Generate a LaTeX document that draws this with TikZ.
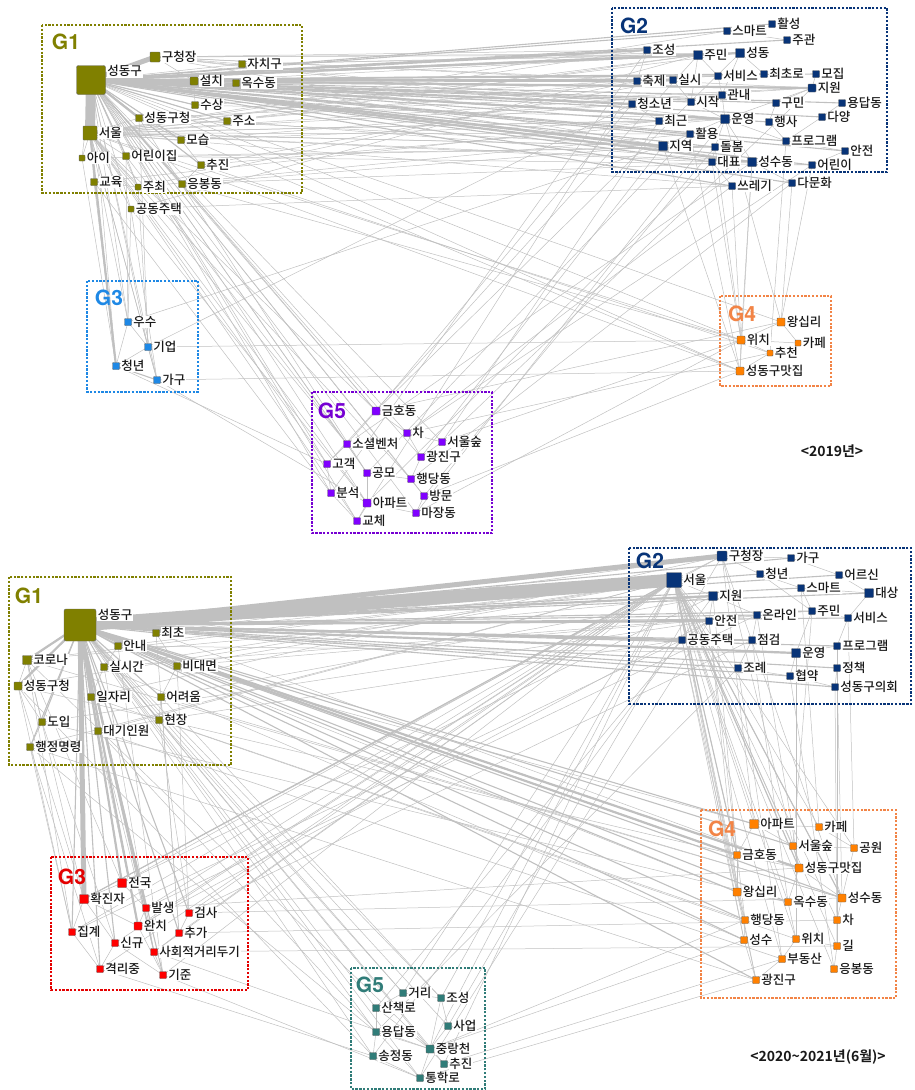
\documentclass[tikz,border=0pt]{standalone}
\usepackage{fontspec}
\setmainfont{Noto Sans CJK KR}
\IfFontExistsTF{Noto Sans CJK KR Medium}{\newfontfamily\lbfont{Noto Sans CJK KR Medium}}{\newfontfamily\lbfont{Noto Sans CJK KR}[FakeBold=0.4]}
\IfFontExistsTF{Noto Sans CJK KR Bold}{\newfontfamily\yrfont{Noto Sans CJK KR Bold}}{\newfontfamily\yrfont{Noto Sans CJK KR}[FakeBold=3]}
\newfontfamily\gfont{TeX Gyre Heros}
\usetikzlibrary{backgrounds}
\definecolor{eg}{RGB}{192,192,192}
\definecolor{cga}{RGB}{128,128,0}
\definecolor{cgb}{RGB}{8,52,120}
\definecolor{cgc}{RGB}{30,136,229}
\definecolor{cgd}{RGB}{255,128,0}
\definecolor{cgdb}{RGB}{242,132,70}
\definecolor{cge}{RGB}{128,0,255}
\definecolor{cgeb}{RGB}{118,0,210}
\definecolor{cgf}{RGB}{255,0,0}
\definecolor{cgfb}{RGB}{228,0,0}
\definecolor{cgg}{RGB}{48,124,120}
\tikzset{
 mk/.style={draw=black!60, line width=0.45pt, fill=#1, inner sep=0pt, outer sep=0pt, rounded corners=0.7pt},
 lb/.style={fill=white, inner sep=0.7pt, anchor=west, font=\lbfont\fontsize{12.5}{13}\selectfont, text=black!90},
 grp/.style={draw=#1, line width=2.3pt, dash pattern=on 2.3pt off 1.5pt},
 gl/.style={text=#1, font=\gfont\bfseries\fontsize{21}{22}\selectfont, inner sep=0pt},
 e1/.style={eg, line width=0.5pt},
 e2/.style={eg, line width=1.1pt},
 e3/.style={eg, line width=2.2pt},
 e4/.style={eg, line width=5pt},
 e5/.style={eg, line width=10pt},
 e6/.style={eg, line width=13pt},
 yr/.style={font=\yrfont\fontsize{14}{15}\selectfont, text=black!90, inner sep=0pt}
}
\newcommand\mknode[6]{\node[mk=#5, minimum size=#4pt] (#1) at (#2,#3) {};\node[lb] (#1l) at ([xshift=1pt]#1.east) {#6};}
\newcommand\mkbig[6]{\node[mk=#5, minimum size=#4pt, rounded corners=2pt] (#1) at (#2,#3) {};\node[lb, anchor=north west] (#1l) at ([xshift=1pt,yshift=1pt]#1.north east) {#6};}
\begin{document}
\begin{tikzpicture}[x=1pt,y=-1pt]
\useasboundingbox (0,0) rectangle (914,1090);
% ===== boxes =====
\draw[grp=cga] (42,25) rectangle (302,193);
\draw[grp=cgb] (612,8) rectangle (887,172);
\draw[grp=cgc] (87,281) rectangle (198,392);
\draw[grp=cgdb] (720,296) rectangle (831,386);
\draw[grp=cgeb] (312,392) rectangle (492,533);
\draw[grp=cga] (9,577) rectangle (231,765);
\draw[grp=cgb] (629,548) rectangle (911,704);
\draw[grp=cgfb] (51,857) rectangle (248,990);
\draw[grp=cgdb] (701,810) rectangle (896,998);
\draw[grp=cgg] (351,968) rectangle (485,1089);
\node[gl=cga] (ta) at (66,42) {G1};
\node[gl=cgb] (tb) at (634,26) {G2};
\node[gl=cgc] (tc) at (109,298) {G3};
\node[gl=cgdb] (td) at (742,314) {G4};
\node[gl=cgeb] (te) at (332,411) {G5};
\node[gl=cga] (ba) at (29,596) {G1};
\node[gl=cgb] (bb) at (650,561) {G2};
\node[gl=cgfb] (bc) at (72,877) {G3};
\node[gl=cgdb] (bd) at (722,829) {G4};
\node[gl=cgg] (be) at (370,985) {G5};
\node[yr] (y1) at (832,451) {<2019년>};
\node[yr] (y2) at (818,1057) {<2020\textasciitilde 2021년(6월)>};
% ===== top nodes =====
\mkbig{a1n1}{91}{80}{29}{cga}{성동구}
\mknode{a1n2}{155}{57}{10}{cga}{구청장}
\mknode{a1n3}{242}{64}{7}{cga}{자치구}
\mknode{a1n4}{194}{81}{8}{cga}{설치}
\mknode{a1n5}{236}{83}{7}{cga}{옥수동}
\mknode{a1n6}{195}{105}{7}{cga}{수상}
\mknode{a1n7}{139}{118}{7}{cga}{성동구청}
\mknode{a1n8}{227}{121}{7}{cga}{주소}
\mknode{a1n9}{90}{133}{14}{cga}{서울}
\mknode{a1n10}{181}{140}{7}{cga}{모습}
\mknode{a1n11}{82}{158}{6}{cga}{아이}
\mknode{a1n12}{126}{156}{7}{cga}{어린이집}
\mknode{a1n13}{201}{165}{7}{cga}{추진}
\mknode{a1n14}{94}{182}{7}{cga}{교육}
\mknode{a1n15}{138}{187}{6}{cga}{주최}
\mknode{a1n16}{182}{184}{7}{cga}{응봉동}
\mknode{a1n17}{131}{209}{6}{cga}{공동주택}
\mknode{a2n1}{727}{31}{7}{cgb}{스마트}
\mknode{a2n2}{772}{24}{7}{cgb}{활성}
\mknode{a2n3}{787}{40}{7}{cgb}{주관}
\mknode{a2n4}{647}{50}{7}{cgb}{조성}
\mknode{a2n5}{698}{55}{9}{cgb}{주민}
\mknode{a2n6}{740}{53}{9}{cgb}{성동}
\mknode{a2n7}{637}{81}{7}{cgb}{축제}
\mknode{a2n8}{673}{80}{7}{cgb}{실시}
\mknode{a2n9}{718}{76}{7}{cgb}{서비스}
\mknode{a2n10}{764}{74}{7}{cgb}{최초로}
\mknode{a2n11}{816}{74}{7}{cgb}{모집}
\mknode{a2n12}{812}{88}{8}{cgb}{지원}
\mknode{a2n13}{632}{104}{7}{cgb}{청소년}
\mknode{a2n14}{691}{102}{7}{cgb}{시작}
\mknode{a2n15}{722}{95}{7}{cgb}{관내}
\mknode{a2n16}{776}{103}{7}{cgb}{구민}
\mknode{a2n17}{842}{103}{7}{cgb}{용답동}
\mknode{a2n18}{659}{121}{7}{cgb}{최근}
\mknode{a2n19}{725}{119}{9}{cgb}{운영}
\mknode{a2n20}{769}{122}{7}{cgb}{행사}
\mknode{a2n21}{822}{117}{7}{cgb}{다양}
\mknode{a2n22}{690}{134}{7}{cgb}{활용}
\mknode{a2n23}{786}{141}{7}{cgb}{프로그램}
\mknode{a2n24}{663}{146}{9}{cgb}{지역}
\mknode{a2n25}{715}{147}{7}{cgb}{돌봄}
\mknode{a2n26}{845}{151}{7}{cgb}{안전}
\mknode{a2n27}{712}{162}{7}{cgb}{대표}
\mknode{a2n28}{752}{162}{9}{cgb}{성수동}
\mknode{a2n29}{812}{165}{7}{cgb}{어린이}
\mknode{a2n30}{732}{186}{7}{cgb}{쓰레기}
\mknode{a2n31}{792}{183}{7}{cgb}{다문화}
\mknode{a3n1}{128}{322}{7}{cgc}{우수}
\mknode{a3n2}{148}{347}{7}{cgc}{기업}
\mknode{a3n3}{116}{366}{7}{cgc}{청년}
\mknode{a3n4}{157}{380}{7}{cgc}{가구}
\mknode{a4n1}{781}{322}{8}{cgd}{왕십리}
\mknode{a4n2}{741}{340}{8}{cgd}{위치}
\mknode{a4n3}{798}{343}{6}{cgd}{카페}
\mknode{a4n4}{770}{353}{6}{cgd}{추천}
\mknode{a4n5}{740}{371}{8}{cgd}{성동구맛집}
\mknode{a5n1}{376}{411}{8}{cge}{금호동}
\mknode{a5n2}{407}{433}{7}{cge}{차}
\mknode{a5n3}{442}{442}{7}{cge}{서울숲}
\mknode{a5n4}{347}{444}{7}{cge}{소셜벤처}
\mknode{a5n5}{421}{457}{7}{cge}{광진구}
\mknode{a5n6}{327}{464}{7}{cge}{고객}
\mknode{a5n7}{367}{473}{7}{cge}{공모}
\mknode{a5n8}{411}{479}{7}{cge}{행당동}
\mknode{a5n9}{331}{493}{7}{cge}{분석}
\mknode{a5n10}{424}{496}{7}{cge}{방문}
\mknode{a5n11}{367}{503}{8}{cge}{아파트}
\mknode{a5n12}{416}{513}{7}{cge}{마장동}
\mknode{a5n13}{357}{521}{7}{cge}{교체}
% ===== bottom nodes =====
\mkbig{b1n1}{80}{625}{32}{cga}{성동구}
\mknode{b1n2}{156}{633}{7}{cga}{최초}
\mknode{b1n3}{118}{646}{7}{cga}{안내}
\mknode{b1n4}{27}{660}{9}{cga}{코로나}
\mknode{b1n5}{104}{667}{7}{cga}{실시간}
\mknode{b1n6}{177}{666}{7}{cga}{비대면}
\mknode{b1n7}{18}{686}{8}{cga}{성동구청}
\mknode{b1n8}{91}{697}{7}{cga}{일자리}
\mknode{b1n9}{161}{697}{7}{cga}{어려움}
\mknode{b1n10}{42}{722}{7}{cga}{도입}
\mknode{b1n11}{159}{720}{7}{cga}{현장}
\mknode{b1n12}{98}{731}{7}{cga}{대기인원}
\mknode{b1n13}{30}{747}{7}{cga}{행정명령}
\mknode{b2n1}{722}{556}{10}{cgb}{구청장}
\mknode{b2n2}{791}{558}{7}{cgb}{가구}
\mknode{b2n3}{674}{580}{15}{cgb}{서울}
\mknode{b2n4}{760}{574}{7}{cgb}{청년}
\mknode{b2n5}{839}{575}{7}{cgb}{어르신}
\mknode{b2n6}{801}{588}{7}{cgb}{스마트}
\mknode{b2n7}{869}{593}{9}{cgb}{대상}
\mknode{b2n8}{713}{596}{9}{cgb}{지원}
\mknode{b2n9}{757}{615}{7}{cgb}{온라인}
\mknode{b2n10}{812}{611}{7}{cgb}{주민}
\mknode{b2n11}{848}{618}{7}{cgb}{서비스}
\mknode{b2n12}{709}{621}{7}{cgb}{안전}
\mknode{b2n13}{682}{640}{7}{cgb}{공동주택}
\mknode{b2n14}{752}{640}{7}{cgb}{점검}
\mknode{b2n15}{796}{653}{9}{cgb}{운영}
\mknode{b2n16}{837}{646}{7}{cgb}{프로그램}
\mknode{b2n17}{738}{668}{7}{cgb}{조례}
\mknode{b2n18}{837}{668}{7}{cgb}{정책}
\mknode{b2n19}{790}{676}{7}{cgb}{협약}
\mknode{b2n20}{835}{687}{7}{cgb}{성동구의회}
\mknode{b3n1}{122}{883}{9}{cgf}{전국}
\mknode{b3n2}{84}{899}{9}{cgf}{확진자}
\mknode{b3n3}{146}{908}{7}{cgf}{발생}
\mknode{b3n4}{189}{913}{7}{cgf}{검사}
\mknode{b3n5}{138}{926}{8}{cgf}{완치}
\mknode{b3n6}{72}{932}{7}{cgf}{집계}
\mknode{b3n7}{179}{933}{7}{cgf}{추가}
\mknode{b3n8}{115}{943}{7}{cgf}{신규}
\mknode{b3n9}{154}{952}{7}{cgf}{사회적거리두기}
\mknode{b3n10}{100}{969}{7}{cgf}{격리중}
\mknode{b3n11}{163}{975}{7}{cgf}{기준}
\mknode{b4n1}{754}{824}{9}{cgd}{아파트}
\mknode{b4n2}{819}{827}{7}{cgd}{카페}
\mknode{b4n3}{793}{846}{7}{cgd}{서울숲}
\mknode{b4n4}{854}{848}{7}{cgd}{공원}
\mknode{b4n5}{737}{855}{7}{cgd}{금호동}
\mknode{b4n6}{799}{868}{8}{cgd}{성동구맛집}
\mknode{b4n7}{737}{892}{8}{cgd}{왕십리}
\mknode{b4n8}{842}{898}{8}{cgd}{성수동}
\mknode{b4n9}{788}{902}{7}{cgd}{옥수동}
\mknode{b4n10}{745}{920}{7}{cgd}{행당동}
\mknode{b4n11}{837}{920}{7}{cgd}{차}
\mknode{b4n12}{744}{940}{7}{cgd}{성수}
\mknode{b4n13}{796}{939}{7}{cgd}{위치}
\mknode{b4n14}{837}{946}{7}{cgd}{길}
\mknode{b4n15}{782}{959}{7}{cgd}{부동산}
\mknode{b4n16}{834}{969}{7}{cgd}{응봉동}
\mknode{b4n17}{756}{980}{7}{cgd}{광진구}
\mknode{b5n1}{403}{993}{7}{cgg}{거리}
\mknode{b5n2}{441}{998}{7}{cgg}{조성}
\mknode{b5n3}{376}{1008}{7}{cgg}{산책로}
\mknode{b5n4}{448}{1026}{7}{cgg}{사업}
\mknode{b5n5}{376}{1032}{7}{cgg}{용답동}
\mknode{b5n6}{430}{1049}{8}{cgg}{중랑천}
\mknode{b5n7}{373}{1056}{7}{cgg}{송정동}
\mknode{b5n8}{444}{1064}{7}{cgg}{추진}
\mknode{b5n9}{420}{1078}{7}{cgg}{통학로}
% ===== edges =====
\begin{scope}[on background layer]
% --- top: G1 ---
\foreach \i in {2,...,17} \draw[e1] (a1n1.center) -- (a1n\i.center);
\foreach \i in {4,6,8,10,12,13,16} \draw[e2] (a1n1.center) -- (a1n\i.center);
\draw[e5] (a1n1.center) -- (a1n9.center);
\draw[e4] (a1n1.center) -- (a1n2.center);
\draw[e3] (a1n1.center) -- (a1n7.center);
\foreach \i in {7,10,11,12,14,15,17} \draw[e1] (a1n9.center) -- (a1n\i.center);
\foreach \s/\t in {2/4,2/3,4/6,7/10,12/15,10/13,13/16,14/15} \draw[e1] (a1n\s.center) -- (a1n\t.center);
% G1-G2
\foreach \i in {1,...,31} \draw[e2] (a1n1.center) -- (a2n\i.center);
\foreach \i in {4,5,6,7,12,13,19,24,28} \draw[e3] (a1n1.center) -- (a2n\i.center);
\foreach \i in {1,4,5,6,7,8,12,13,18,19,22,24,25,27,28,30} \draw[e1] (a1n9.center) -- (a2n\i.center);
\foreach \i in {4,5,6,7,12,13,19,24} \draw[e1] (a1n2.center) -- (a2n\i.center);
\foreach \s/\t in {3/5,3/6,4/6,4/12,5/28,5/12,6/19,6/9,7/24,7/12,8/28,8/5,10/13,10/19,12/25,12/29,13/19,13/8,14/18,15/7,16/28,16/24,17/5,17/30,11/25,15/22} \draw[e1] (a1n\s.center) -- (a2n\t.center);
% G1-G3
\foreach \i in {1,...,4} \draw[e1] (a1n1.center) -- (a3n\i.center);
\foreach \i in {1,2,4} \draw[e1] (a1n9.center) -- (a3n\i.center);
\draw[e3] (a1n9.center) -- (a3n3.center);
\foreach \s/\t in {11/3,14/3,12/1,17/4,15/2,7/2,17/1} \draw[e1] (a1n\s.center) -- (a3n\t.center);
\foreach \s/\t in {1/3,1/2,2/4,2/3} \draw[e1] (a3n\s.center) -- (a3n\t.center);
\draw[e2] (a3n3.center) -- (a3n4.center);
\draw[e1] (a3n2.center) -- (a4n2.center);
\draw[e1] (a3n4.center) -- (a4n5.center);
\draw[e1] (a3n1.center) -- (a2n24.center);
\draw[e1] (a3n2.center) -- (a2n13.center);
\draw[e1] (a3n4.center) -- (a5n11.center);
\draw[e1] (a3n3.center) -- (a5n6.center);
% G1-G4, G1-G5
\foreach \s/\t in {1/1,1/2,1/5,9/2,9/5,7/5,16/2,13/4} \draw[e1] (a1n\s.center) -- (a4n\t.center);
\foreach \i in {1,...,13} \draw[e1] (a1n1.center) -- (a5n\i.center);
\foreach \i in {1,4,6,8,11,13} \draw[e1] (a1n9.center) -- (a5n\i.center);
\foreach \s/\t in {12/4,14/9,17/11,16/1,7/7} \draw[e1] (a1n\s.center) -- (a5n\t.center);
% G2-G5, G2-G4, G2
\foreach \s/\t in {13/1,24/5,18/3,22/7,27/11,7/13,4/9,30/2,28/4,19/12,5/6,6/1,12/3,25/10,31/8,29/2} \draw[e1] (a2n\s.center) -- (a5n\t.center);
\foreach \s/\t in {30/2,28/5,27/2,19/1,24/5,25/2,31/1,23/4,28/2,29/1,22/5} \draw[e1] (a2n\s.center) -- (a4n\t.center);
\foreach \s/\t in {5/6,5/9,6/10,9/15,12/16,19/22,19/25,23/26,28/29,28/31,27/30,24/25,17/21,11/12,1/2,1/3,13/18,8/14,22/24,20/23,5/14,6/15,19/28,12/19,16/20,4/7,9/10,14/19,15/19,21/23,26/29,25/27,19/23} \draw[e1] (a2n\s.center) -- (a2n\t.center);
% G5, G4
\foreach \s/\t in {1/2,1/4,2/3,2/5,4/6,4/7,6/9,7/11,7/8,8/10,11/13,11/12,5/8,9/13,3/5,10/12} \draw[e1] (a5n\s.center) -- (a5n\t.center);
\foreach \s/\t in {1/1,3/2,10/5,12/2,2/4} \draw[e1] (a5n\s.center) -- (a4n\t.center);
\foreach \s/\t in {2/5,2/4,1/3,2/3,5/4,1/2} \draw[e1] (a4n\s.center) -- (a4n\t.center);
% --- bottom: G1 ---
\foreach \i in {2,...,13} \draw[e2] (b1n1.center) -- (b1n\i.center);
\foreach \i in {4,7,8} \draw[e3] (b1n1.center) -- (b1n\i.center);
\foreach \s/\t in {4/7,7/10,10/13,4/10,5/8,3/5,2/6,6/9,9/11,8/12,11/12} \draw[e1] (b1n\s.center) -- (b1n\t.center);
% G1-G2
\foreach \i in {1,...,20} \draw[e2] (b1n1.center) -- (b2n\i.center);
\draw[e6] (b1n1.center) -- (b2n3.center);
\draw[e4] (b1n1.center) -- (b2n1.center);
\foreach \i in {8,13,12,15} \draw[e3] (b1n1.center) -- (b2n\i.center);
\foreach \s/\t in {4/3,7/3,4/8,2/3,3/3,5/3,6/3,8/1,9/8,11/13,12/3,13/3,10/12,2/1,6/10,3/15,5/9} \draw[e1] (b1n\s.center) -- (b2n\t.center);
% G1-G3
\foreach \i in {1,...,11} \draw[e2] (b1n1.center) -- (b3n\i.center);
\draw[e4] (b1n1.center) -- (b3n2.center);
\foreach \i in {1,3,5} \draw[e3] (b1n1.center) -- (b3n\i.center);
\foreach \s/\t in {4/2,4/1,4/6,7/2,7/6,13/6,10/8,13/10,12/5,11/4,8/9,9/7,5/3,3/11,6/4,2/7} \draw[e1] (b1n\s.center) -- (b3n\t.center);
% G1-G4, G1-G5
\foreach \i in {1,3,5,6,7,8,9,10,12,17} \draw[e2] (b1n1.center) -- (b4n\i.center);
\foreach \i in {5,6} \draw[e3] (b1n1.center) -- (b4n\i.center);
\foreach \s/\t in {4/8,7/5,2/6,6/1,9/8,11/10,3/7,5/12,12/15,13/17,8/13,10/9} \draw[e1] (b1n\s.center) -- (b4n\t.center);
\foreach \i in {1,...,9} \draw[e1] (b1n1.center) -- (b5n\i.center);
\foreach \s/\t in {4/6,7/7,11/1,12/9,13/5,9/2} \draw[e1] (b1n\s.center) -- (b5n\t.center);
% G2-G4
\foreach \i in {1,...,17} \draw[e1] (b2n3.center) -- (b4n\i.center);
\foreach \i in {8,6,5} \draw[e2] (b2n3.center) -- (b4n\i.center);
\foreach \s/\t in {1/8,1/6,1/1,8/5,13/12,12/10,14/9,15/13,17/15,19/16,20/14,16/11,18/8,10/3,11/4,9/6,6/2,13/17,12/7} \draw[e1] (b2n\s.center) -- (b4n\t.center);
% G2-G3, G2-G5
\foreach \i in {1,...,11} \draw[e1] (b2n3.center) -- (b3n\i.center);
\draw[e2] (b2n3.center) -- (b3n2.center);
\foreach \s/\t in {1/2,8/1,13/6,12/5,14/4,9/3} \draw[e1] (b2n\s.center) -- (b3n\t.center);
\foreach \s/\t in {3/1,3/2,3/6,3/8,13/3,12/9,1/4,17/5,8/7} \draw[e1] (b2n\s.center) -- (b5n\t.center);
% G2 internal
\foreach \s/\t in {1/3,1/2,1/4,3/8,3/12,3/13,4/6,5/7,6/7,7/11,8/9,9/14,10/15,11/16,14/17,15/19,16/18,18/20,12/13,13/14,2/5,4/10,10/11,15/16,19/20,17/19,6/10,8/12} \draw[e1] (b2n\s.center) -- (b2n\t.center);
% G3
\foreach \s/\t in {2/6,2/8,1/3,5/11,9/11,10/8,3/9,4/7,2/5,6/10,1/2,3/5,7/9,8/11} \draw[e1] (b3n\s.center) -- (b3n\t.center);
\foreach \s/\t in {4/8,7/11,9/14,3/6} \draw[e1] (b3n\s.center) -- (b4n\t.center);
\foreach \s/\t in {10/7,11/9,9/6} \draw[e1] (b3n\s.center) -- (b5n\t.center);
% G4, G5
\foreach \s/\t in {1/2,1/3,2/4,3/6,5/6,6/8,7/9,8/11,10/12,12/17,13/15,14/16,15/17,9/13,6/9,5/7,7/10,11/14,8/4,3/4,1/5,13/14} \draw[e1] (b4n\s.center) -- (b4n\t.center);
\foreach \s/\t in {1/2,1/3,2/4,3/5,5/7,4/6,6/8,6/9,7/9,2/6,3/6,5/6} \draw[e1] (b5n\s.center) -- (b5n\t.center);
\foreach \s/\t in {12/6,17/9,10/6,15/8} \draw[e1] (b4n\s.center) -- (b5n\t.center);
\end{scope}
\end{tikzpicture}
\end{document}
